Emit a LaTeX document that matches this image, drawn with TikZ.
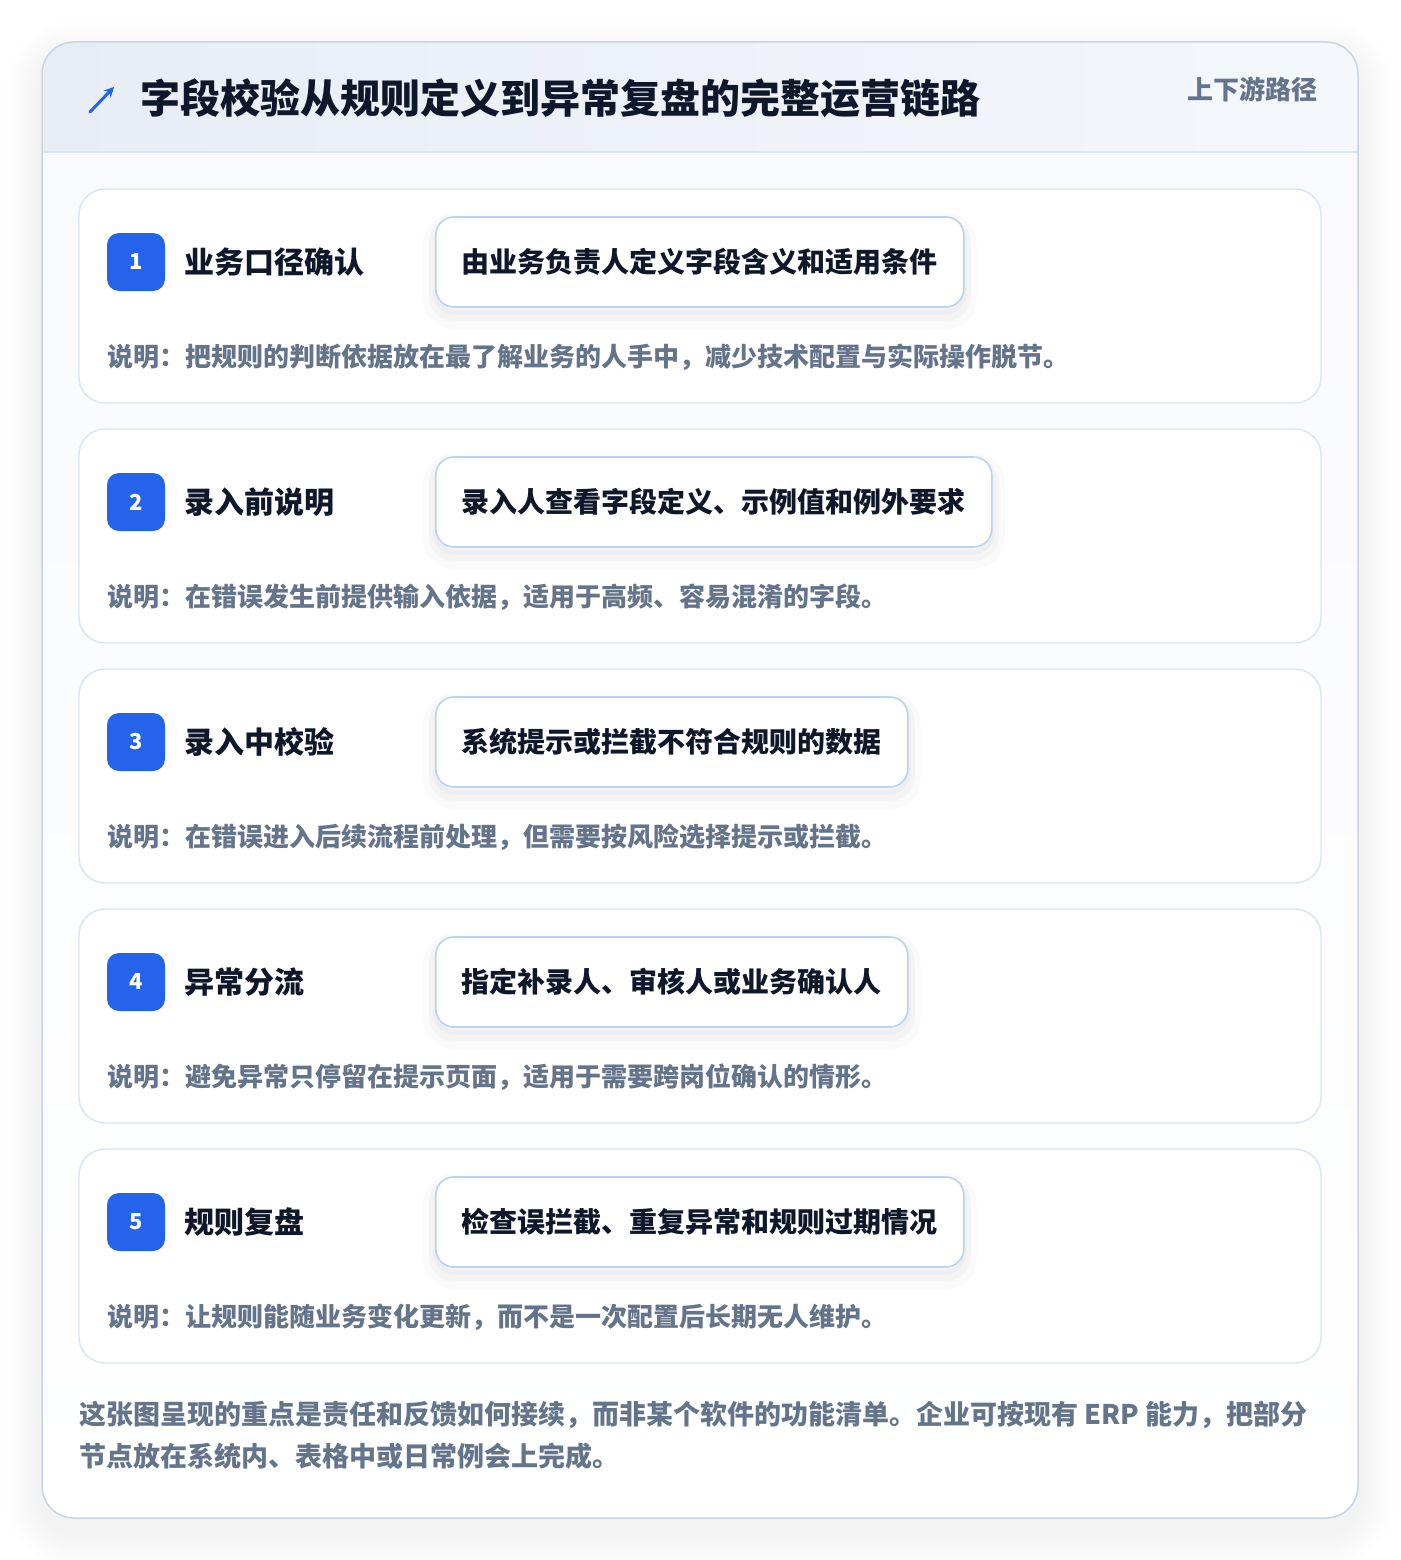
\documentclass[tikz,border=0pt]{standalone}
\usepackage{fontspec}
\setmainfont{Noto Sans CJK SC}
\usetikzlibrary{arrows.meta}

\definecolor{ink}{HTML}{0F172A}
\definecolor{muted}{HTML}{64748B}
\definecolor{brand}{HTML}{2563EB}
\definecolor{cardline}{HTML}{D9E6F7}
\definecolor{pillline}{HTML}{BAD3F2}
\definecolor{frameline}{HTML}{C8D3E3}
\definecolor{headL}{HTML}{E8EDF5}
\definecolor{headR}{HTML}{F4F7FB}
\definecolor{bodybg}{HTML}{F8FAFC}

\tikzset{
	stepcard/.style={draw=cardline, line width=1.4pt, fill=white, rounded corners=26pt},
	badge/.style={fill=brand, text=white, rounded corners=12pt, minimum size=58pt, inner sep=0pt, font=\fontsize{22}{22}\selectfont\bfseries},
	steptitle/.style={anchor=west, text=ink, inner sep=0pt, font=\fontsize{30}{36}\selectfont\bfseries},
	pill/.style={anchor=west, draw=pillline, line width=1.6pt, fill=white, rounded corners=18pt, minimum height=90pt, inner xsep=26pt, text=ink, font=\fontsize{28}{34}\selectfont\bfseries,
		preaction={draw=black, draw opacity=0.018, line width=26pt, transform canvas={yshift=-9pt}},
		preaction={draw=black, draw opacity=0.022, line width=14pt, transform canvas={yshift=-7pt}},
		preaction={draw=black, draw opacity=0.025, line width=5pt, transform canvas={yshift=-5pt}}},
	note/.style={anchor=west, text=muted, inner sep=0pt, font=\fontsize{26}{32}\selectfont\bfseries},
}

\begin{document}
\begin{tikzpicture}[x=1pt, y=-1pt]
			%%%%% FRAME %%%%%
			\useasboundingbox (0, 0) rectangle (1400, 1560);
			\fill[white] (0, 0) rectangle (1400, 1560);
			
			% soft shadow round the card
			\foreach \g [evaluate=\g as \r using 32+\g] in {3,6,...,36}
				\fill[black, opacity=0.0055, rounded corners=\r pt] (42-\g, 42-\g+14) rectangle (1358+\g, 1518+\g+14);
			
			\begin{scope}
				\clip[rounded corners=32pt] (42, 42) rectangle (1358, 1518);
				\shade[top color=bodybg, bottom color=white] (42, 152) rectangle (1358, 1518);
				\shade[left color=headL, right color=headR] (42, 42) rectangle (1358, 152);
			\end{scope}
			\draw[cardline, line width=1.5pt] (42, 152) -- (1358, 152);
			\draw[frameline, line width=1.5pt, rounded corners=32pt] (42, 42) rectangle (1358, 1518);
			
			%%%%% HEADER %%%%%
			\coordinate (arrowtail) at (90, 112);
			\coordinate (arrowtip) at (114, 87);
			\draw[brand, line width=3pt, line cap=round, -{Stealth[length=10pt, width=10pt]}] (arrowtail) -- (arrowtip);
			\node[anchor=west, text=ink, inner sep=0pt, font=\fontsize{40}{48}\selectfont\bfseries] (title) at (140, 98) {字段校验从规则定义到异常复盘的完整运营链路};
			\node[anchor=east, text=muted, inner sep=0pt, font=\fontsize{26}{32}\selectfont\bfseries] (tag) at (1318, 89) {上下游路径};
			
			%%%%% STEP 1 %%%%%
			\draw[stepcard] (79, 189) rectangle (1321, 403);
			\node[badge] (b1) at (136, 262) {1};
			\node[steptitle] (t1) at (184, 262) {业务口径确认};
			\node[pill] (p1) at (435, 262) {由业务负责人定义字段含义和适用条件};
			\node[note] (n1) at (107, 357) {说明：把规则的判断依据放在最了解业务的人手中，减少技术配置与实际操作脱节。};
			
			%%%%% STEP 2 %%%%%
			\draw[stepcard] (79, 429) rectangle (1321, 643);
			\node[badge] (b2) at (136, 502) {2};
			\node[steptitle] (t2) at (184, 502) {录入前说明};
			\node[pill] (p2) at (435, 502) {录入人查看字段定义、示例值和例外要求};
			\node[note] (n2) at (107, 597) {说明：在错误发生前提供输入依据，适用于高频、容易混淆的字段。};
			
			%%%%% STEP 3 %%%%%
			\draw[stepcard] (79, 669) rectangle (1321, 883);
			\node[badge] (b3) at (136, 742) {3};
			\node[steptitle] (t3) at (184, 742) {录入中校验};
			\node[pill] (p3) at (435, 742) {系统提示或拦截不符合规则的数据};
			\node[note] (n3) at (107, 837) {说明：在错误进入后续流程前处理，但需要按风险选择提示或拦截。};
			
			%%%%% STEP 4 %%%%%
			\draw[stepcard] (79, 909) rectangle (1321, 1123);
			\node[badge] (b4) at (136, 982) {4};
			\node[steptitle] (t4) at (184, 982) {异常分流};
			\node[pill] (p4) at (435, 982) {指定补录人、审核人或业务确认人};
			\node[note] (n4) at (107, 1077) {说明：避免异常只停留在提示页面，适用于需要跨岗位确认的情形。};
			
			%%%%% STEP 5 %%%%%
			\draw[stepcard] (79, 1149) rectangle (1321, 1363);
			\node[badge] (b5) at (136, 1222) {5};
			\node[steptitle] (t5) at (184, 1222) {规则复盘};
			\node[pill] (p5) at (435, 1222) {检查误拦截、重复异常和规则过期情况};
			\node[note] (n5) at (107, 1317) {说明：让规则能随业务变化更新，而不是一次配置后长期无人维护。};
			
			%%%%% FOOTER %%%%%
			\node[anchor=north west, align=left, text=muted, inner sep=0pt, font=\fontsize{27}{42}\selectfont\bfseries] (foot) at (79, 1401) {这张图呈现的重点是责任和反馈如何接续，而非某个软件的功能清单。企业可按现有 ERP 能力，把部分\\节点放在系统内、表格中或日常例会上完成。};
			
			%%%%% END %%%%%
\end{tikzpicture}
\end{document}
